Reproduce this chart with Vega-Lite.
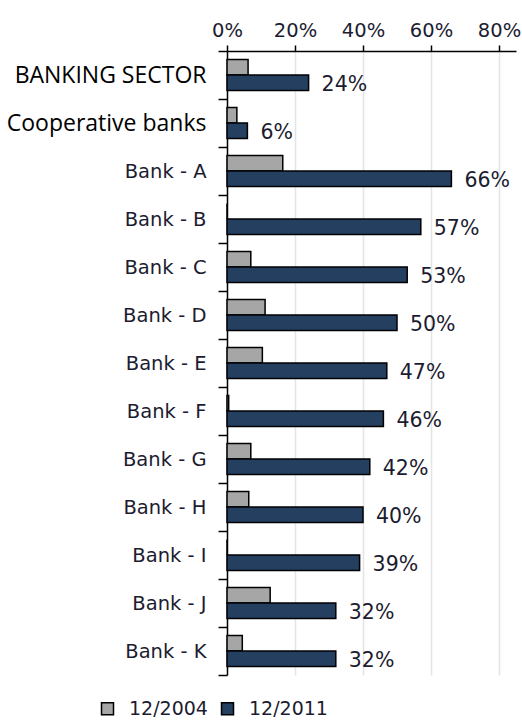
{
  "$schema": "https://vega.github.io/schema/vega-lite/v6.json",
  "autosize": "none",
  "padding": {"left": 227, "top": 51, "right": 6, "bottom": 45},
  "width": 289,
  "height": 624,
  "background": "white",
  "config": {"view": {"stroke": null}},
  "data": {"values": [
    {"bank": "BANKING SECTOR", "period": "12/2004", "share": 0.062},
    {"bank": "BANKING SECTOR", "period": "12/2011", "share": 0.24},
    {"bank": "Cooperative banks", "period": "12/2004", "share": 0.029},
    {"bank": "Cooperative banks", "period": "12/2011", "share": 0.06},
    {"bank": "Bank - A", "period": "12/2004", "share": 0.164},
    {"bank": "Bank - A", "period": "12/2011", "share": 0.66},
    {"bank": "Bank - B", "period": "12/2004", "share": 0},
    {"bank": "Bank - B", "period": "12/2011", "share": 0.57},
    {"bank": "Bank - C", "period": "12/2004", "share": 0.07},
    {"bank": "Bank - C", "period": "12/2011", "share": 0.53},
    {"bank": "Bank - D", "period": "12/2004", "share": 0.112},
    {"bank": "Bank - D", "period": "12/2011", "share": 0.50},
    {"bank": "Bank - E", "period": "12/2004", "share": 0.104},
    {"bank": "Bank - E", "period": "12/2011", "share": 0.47},
    {"bank": "Bank - F", "period": "12/2004", "share": 0.005},
    {"bank": "Bank - F", "period": "12/2011", "share": 0.46},
    {"bank": "Bank - G", "period": "12/2004", "share": 0.07},
    {"bank": "Bank - G", "period": "12/2011", "share": 0.42},
    {"bank": "Bank - H", "period": "12/2004", "share": 0.064},
    {"bank": "Bank - H", "period": "12/2011", "share": 0.40},
    {"bank": "Bank - I", "period": "12/2004", "share": 0},
    {"bank": "Bank - I", "period": "12/2011", "share": 0.39},
    {"bank": "Bank - J", "period": "12/2004", "share": 0.127},
    {"bank": "Bank - J", "period": "12/2011", "share": 0.32},
    {"bank": "Bank - K", "period": "12/2004", "share": 0.045},
    {"bank": "Bank - K", "period": "12/2011", "share": 0.32}
  ]},
  "encoding": {
    "y": {
      "field": "bank", "type": "nominal", "sort": null,
      "scale": {"paddingInner": 0, "paddingOuter": 0},
      "axis": {
        "title": null,
        "domainColor": "#000", "domainWidth": 1.5,
        "tickColor": "#000", "tickWidth": 1.5, "tickSize": 9,
        "tickBand": "extent",
        "labelPadding": 12,
        "labelFont": {"condition": {"test": "indexof(['BANKING SECTOR','Cooperative banks'], datum.value) >= 0", "value": "Open Sans"}, "value": "DejaVu Sans"},
        "labelFontSize": {"condition": {"test": "indexof(['BANKING SECTOR','Cooperative banks'], datum.value) >= 0", "value": 23}, "value": 19.5},
        "labelColor": {"condition": {"test": "indexof(['BANKING SECTOR','Cooperative banks'], datum.value) >= 0", "value": "#000"}, "value": "#1c1c30"},
        "labelLimit": 300
      }
    },
    "yOffset": {
      "field": "period", "type": "nominal",
      "scale": {"domain": ["12/2004", "12/2011"], "paddingInner": 0, "paddingOuter": 0.55}
    },
    "x": {
      "field": "share", "type": "quantitative",
      "scale": {"domain": [0, 0.85], "nice": false},
      "axis": {
        "orient": "top", "title": null, "format": ".0%",
        "values": [0, 0.2, 0.4, 0.6, 0.8],
        "labelFlush": false,
        "domainColor": "#000", "domainWidth": 1.5,
        "tickColor": "#000", "tickWidth": 1.5, "tickSize": 6,
        "labelFont": "DejaVu Sans", "labelFontSize": 19.5, "labelColor": "#1c1c30",
        "labelPadding": 5,
        "grid": true, "gridColor": "#e4e4e4", "gridWidth": 1.5,
        "gridOpacity": {"condition": {"test": "datum.value == 0", "value": 0}, "value": 1}
      }
    }
  },
  "layer": [
    {
      "mark": {"type": "bar", "stroke": "#000", "strokeWidth": 1.5},
      "encoding": {
        "color": {
          "field": "period", "type": "nominal",
          "scale": {"domain": ["12/2004", "12/2011"], "range": ["#a6a6a6", "#243f60"]},
          "legend": {
            "title": null, "orient": "none", "direction": "horizontal",
            "legendX": -129, "legendY": 648,
            "symbolType": "square", "symbolSize": 144,
            "symbolStrokeColor": "#000", "symbolStrokeWidth": 1.5,
            "labelFont": "DejaVu Sans", "labelFontSize": 19, "labelColor": "#1c1c30",
            "labelOffset": 12, "columnPadding": 10
          }
        }
      }
    },
    {
      "transform": [{"filter": "datum.period == '12/2011'"}],
      "mark": {"type": "text", "align": "left", "baseline": "middle", "dx": 13, "dy": 2, "font": "DejaVu Sans", "fontSize": 20.5, "color": "#1c1c30"},
      "encoding": {
        "text": {"field": "share", "type": "quantitative", "format": ".0%"}
      }
    }
  ]
}
